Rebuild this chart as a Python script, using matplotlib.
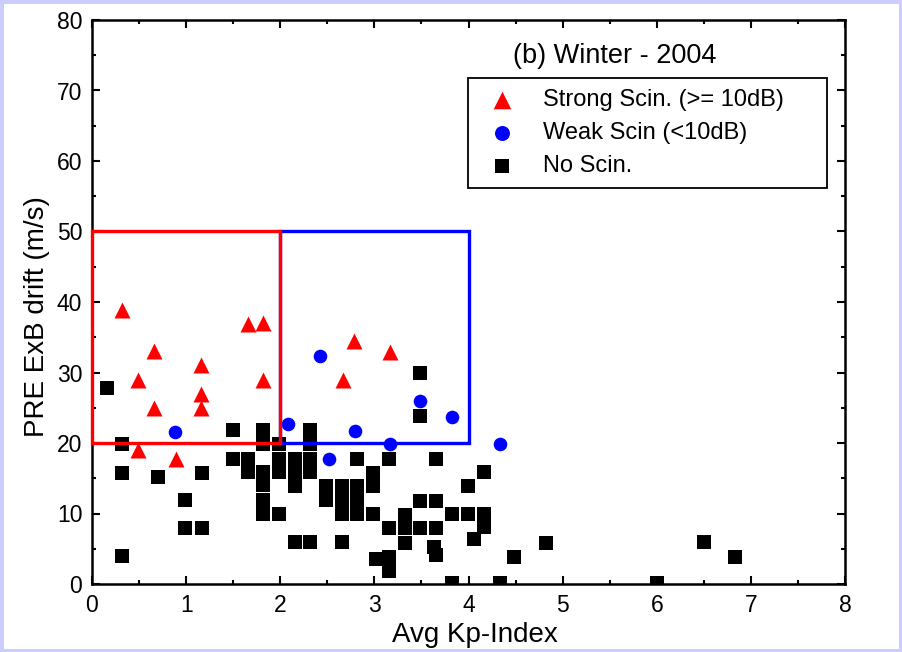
import matplotlib
matplotlib.use("Agg")
import matplotlib.pyplot as plt
from matplotlib.patches import Rectangle
from matplotlib.ticker import MultipleLocator

plt.rcParams['font.family'] = ['Liberation Sans', 'DejaVu Sans']

# Strong scintillation (>= 10 dB)
strong_x = [0.32, 1.66, 1.82, 0.66, 1.16, 0.49, 1.82, 1.16, 0.66, 1.16, 0.49, 0.89, 2.78, 3.17, 2.67]
strong_y = [38.8, 36.9, 37.0, 33.0, 31.0, 29.0, 29.0, 27.0, 25.0, 25.0, 19.0, 17.7, 34.5, 32.9, 29.0]

# Weak scintillation (< 10 dB)
weak_x = [0.88, 2.08, 2.42, 2.79, 3.17, 2.52, 3.49, 3.82, 4.33]
weak_y = [21.5, 22.7, 32.3, 21.7, 19.8, 17.7, 25.9, 23.7, 19.8]

# No scintillation
no_x = [0.16, 0.32, 0.32, 0.32, 0.70, 0.99, 0.99, 1.17, 1.17,
        1.50, 1.50, 1.66, 1.66,
        1.82, 1.82, 1.82, 1.82, 1.82, 1.82,
        1.99, 1.99, 1.99, 1.99,
        2.16, 2.16, 2.16, 2.16,
        2.32, 2.32, 2.32, 2.32, 2.32,
        2.49, 2.49,
        2.66, 2.66, 2.66, 2.66,
        2.82, 2.82, 2.82, 2.82,
        2.99, 2.99, 2.99, 3.02,
        3.16, 3.16, 3.16, 3.16,
        3.33, 3.33, 3.33,
        3.49, 3.49, 3.49, 3.49,
        3.66, 3.66, 3.66, 3.63, 3.66,
        3.82, 3.82,
        3.99, 3.99,
        4.16, 4.16, 4.16, 4.06,
        4.48, 4.82, 4.33, 6.00, 6.50, 6.83]
no_y = [27.8, 19.8, 15.8, 4.0, 15.2, 11.9, 7.9, 7.9, 15.8,
        21.8, 17.8, 17.8, 15.9,
        21.8, 19.9, 15.9, 14.0, 11.9, 9.9,
        19.9, 17.8, 15.9, 9.9,
        17.8, 15.9, 13.9, 6.0,
        21.8, 19.9, 17.8, 15.9, 6.0,
        13.9, 11.9,
        13.9, 11.9, 9.9, 6.0,
        17.7, 13.9, 11.9, 9.9,
        15.8, 13.9, 9.9, 3.5,
        17.8, 7.9, 3.9, 1.9,
        9.8, 7.9, 5.8,
        29.9, 23.8, 11.8, 7.9,
        17.8, 11.8, 7.9, 5.3, 4.1,
        9.9, 0.2,
        13.9, 9.9,
        15.9, 9.9, 8.1, 6.4,
        3.9, 5.8, 0.2, 0.2, 6.0, 3.9]

# Boxes: (x0, y0, width, height)
red_box = (0, 20, 2, 30)
blue_box = (2, 20, 2, 30)

fig = plt.figure(figsize=(9.02, 6.52), dpi=100)
fig.patch.set_facecolor('white')
ax = fig.add_axes([92/902, (652-584)/652, (845-92)/902, (584-20)/652])

h_no = ax.scatter(no_x, no_y, marker='s', s=9.8**2, color='black', linewidths=0, zorder=2)
ax.add_patch(Rectangle(blue_box[:2], blue_box[2], blue_box[3], fill=False, edgecolor='#0000ff', linewidth=2.4, zorder=3))
ax.add_patch(Rectangle(red_box[:2], red_box[2], red_box[3], fill=False, edgecolor='#ff0000', linewidth=2.4, zorder=6, clip_on=False))
h_strong = ax.scatter(strong_x, strong_y, marker='^', s=11.5**2, color='#ff0000', linewidths=0, zorder=4)
h_weak = ax.scatter(weak_x, weak_y, marker='o', s=9.8**2, color='#0000ff', linewidths=0, zorder=4)

ax.set_xlim(0, 8)
ax.set_ylim(0, 80)
ax.xaxis.set_major_locator(MultipleLocator(1))
ax.xaxis.set_minor_locator(MultipleLocator(0.5))
ax.yaxis.set_major_locator(MultipleLocator(10))
ax.yaxis.set_minor_locator(MultipleLocator(5))
ax.tick_params(which='both', direction='in', top=True, right=True, width=1.5, colors='black')
ax.tick_params(which='major', length=6, labelsize=16.5, pad=7)
ax.tick_params(which='minor', length=3)
for sp in ax.spines.values():
    sp.set_linewidth(1.8)
    sp.set_zorder(5)

ax.set_xlabel('Avg Kp-Index', fontsize=20)
ax.set_ylabel('PRE ExB drift (m/s)', fontsize=20)
ax.xaxis.set_label_coords(0.509, -0.067)
ax.yaxis.set_label_coords(-0.056, 0.474)

ax.text(4.47, 73.9, '(b) Winter - 2004', fontsize=19.5, ha='left', va='baseline')

leg = ax.legend([h_strong, h_weak, h_no],
                ['Strong Scin. (>= 10dB)', 'Weak Scin (<10dB)', 'No Scin.'],
                loc='upper left', bbox_to_anchor=(0.4993, 0.702, 0.4767, 0.195),
                mode='expand', fontsize=17, frameon=True, fancybox=False, framealpha=1,
                borderaxespad=0, borderpad=0.45, handlelength=2.0,
                handletextpad=0.74, labelspacing=0.48, scatterpoints=1,
                markerscale=1.1)
leg.get_frame().set_edgecolor('black')
leg.get_frame().set_linewidth(1.3)
leg.set_zorder(7)

fig.add_artist(Rectangle((0, 0), 1, 1, transform=fig.transFigure, fill=False,
                         edgecolor='#ccccff', linewidth=5))

fig.savefig('out.png', dpi=100, facecolor='white')
